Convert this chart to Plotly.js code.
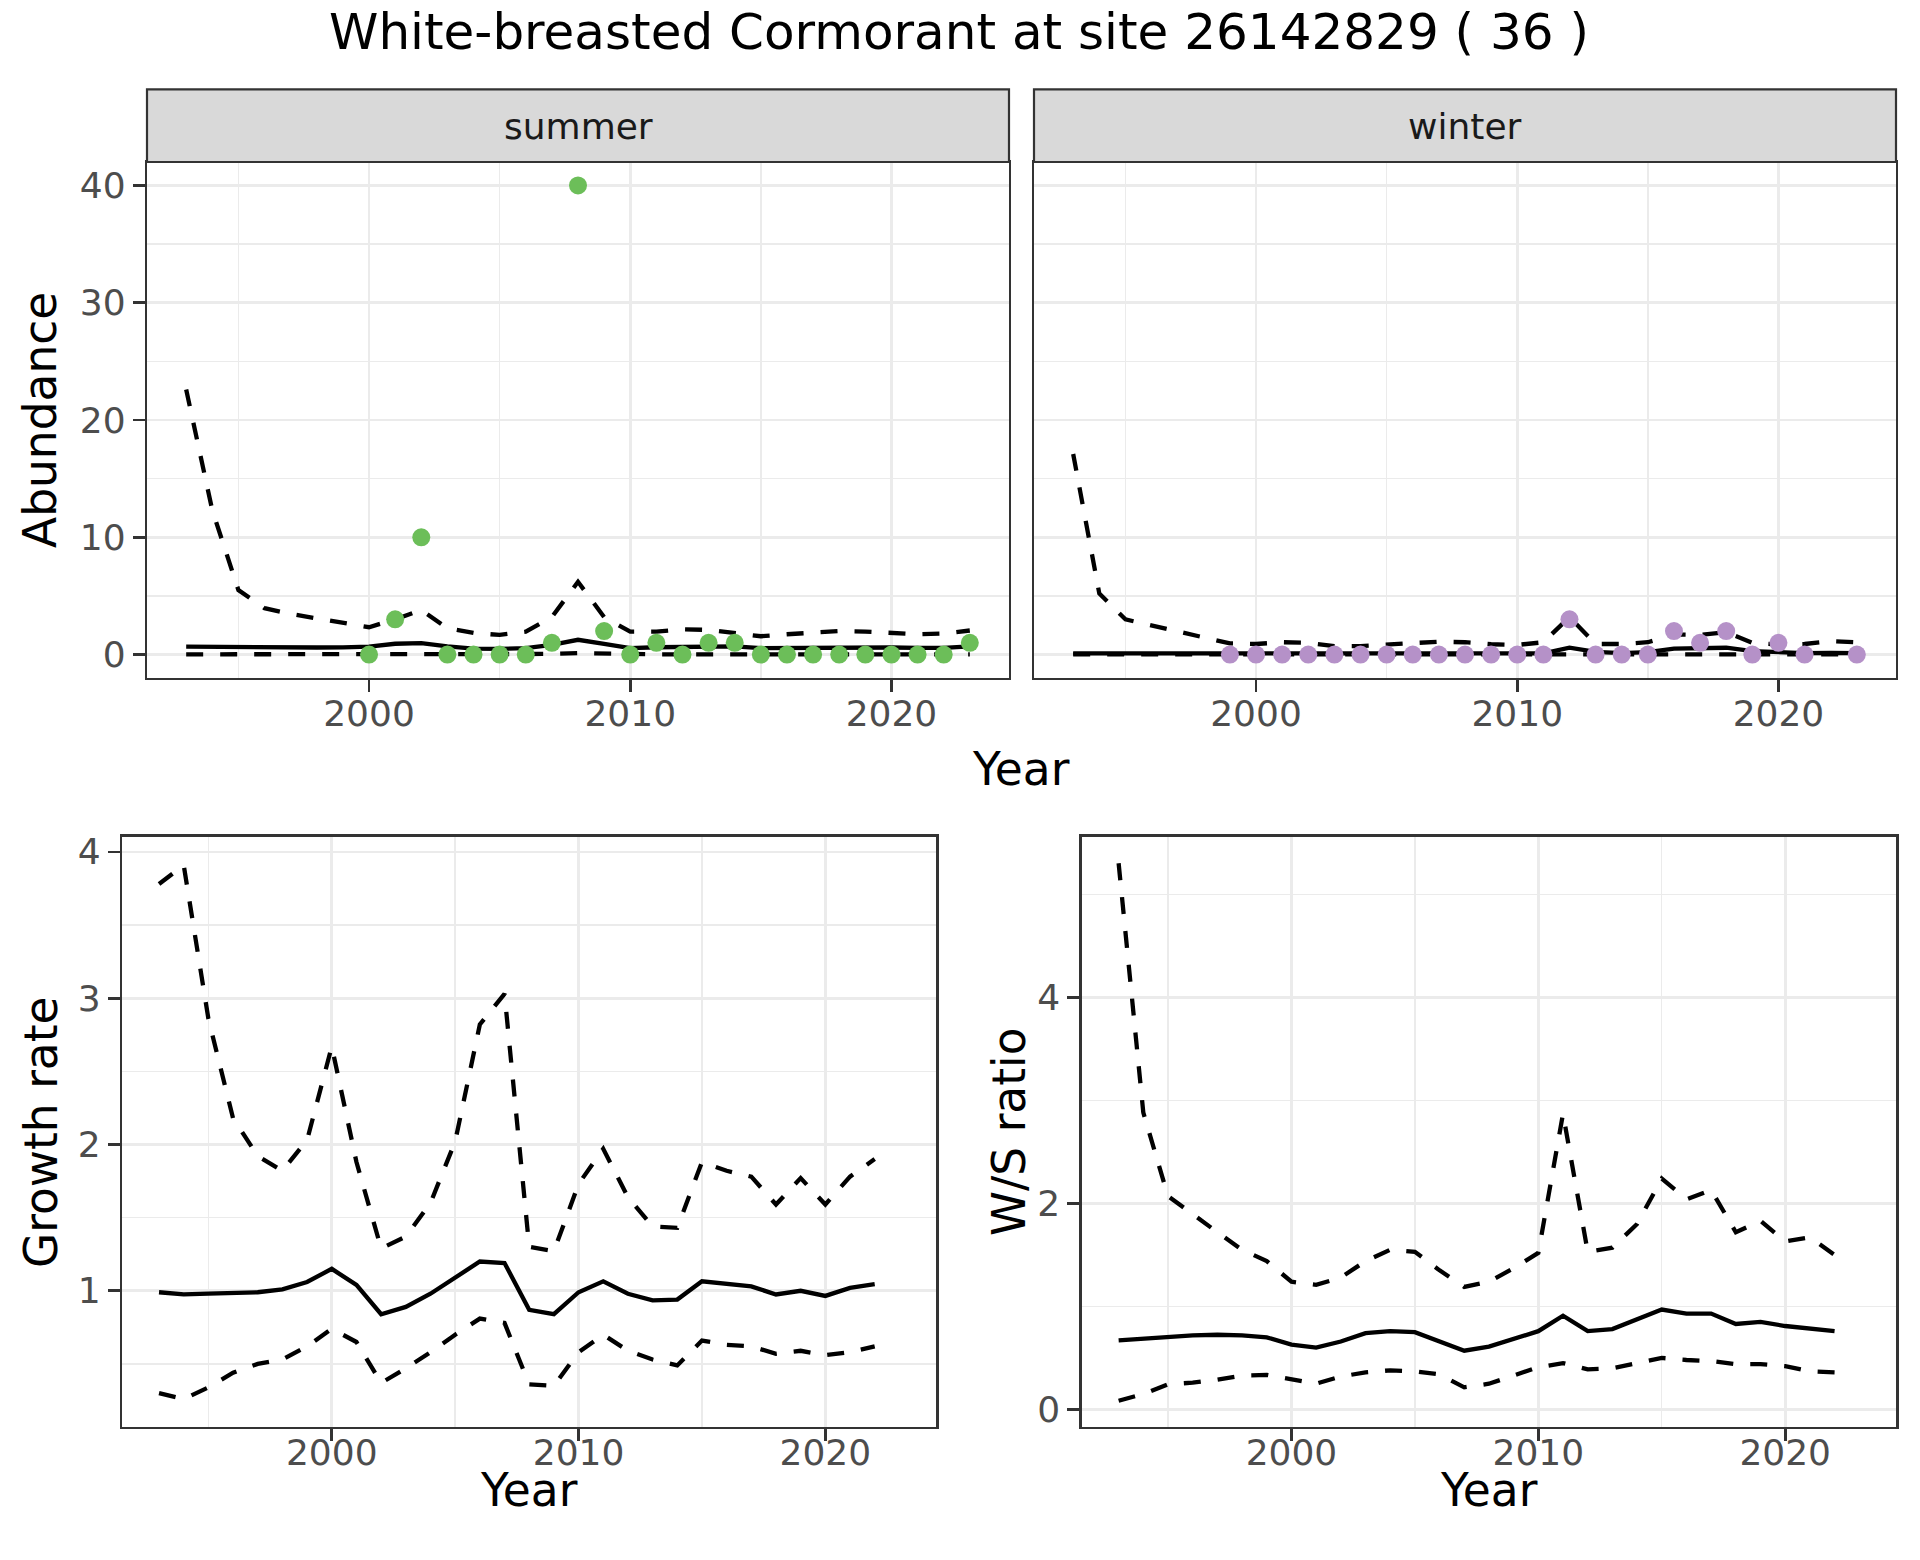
<!DOCTYPE html>
<html>
<head>
<meta charset="utf-8">
<script src="https://cdn.plot.ly/plotly-3.0.1.min.js"></script>
<style>
  html, body { margin: 0; padding: 0; background: #ffffff; }
  #chart { width: 1920px; height: 1560px; }
</style>
</head>
<body>
<div id="chart"></div>
<script>
// ---------------- data ----------------
const yearsTop = [1993,1994,1995,1996,1997,1998,1999,2000,2001,2002,2003,2004,2005,2006,2007,2008,2009,2010,2011,2012,2013,2014,2015,2016,2017,2018,2019,2020,2021,2022,2023];

const summerMean  = [0.68,0.65,0.63,0.62,0.60,0.60,0.61,0.68,0.92,0.98,0.70,0.50,0.48,0.54,0.82,1.26,0.90,0.54,0.62,0.62,0.68,0.70,0.54,0.57,0.60,0.60,0.60,0.60,0.57,0.57,0.70];
const summerUpper = [22.6,12.3,5.5,3.95,3.46,3.1,2.7,2.33,3.0,3.8,2.24,1.84,1.67,1.95,3.2,6.2,3.2,1.95,1.96,2.15,2.1,1.85,1.56,1.73,1.9,2.0,1.96,1.87,1.73,1.79,2.05];
const summerLower = [0.02,0.02,0.02,0.02,0.02,0.02,0.02,0.02,0.04,0.05,0.03,0.02,0.02,0.02,0.05,0.12,0.06,0.02,0.02,0.02,0.02,0.02,0.02,0.02,0.02,0.02,0.02,0.02,0.02,0.02,0.02];

const winterMean  = [0.10,0.10,0.10,0.10,0.10,0.10,0.10,0.10,0.10,0.10,0.10,0.10,0.10,0.10,0.10,0.10,0.10,0.10,0.10,0.58,0.22,0.12,0.20,0.50,0.58,0.58,0.30,0.22,0.12,0.15,0.12];
const winterUpper = [17.1,5.2,3.0,2.5,2.0,1.5,0.95,0.9,1.05,1.0,0.72,0.72,0.82,1.0,1.1,1.05,0.88,0.82,1.05,3.2,0.9,0.9,1.05,1.7,1.68,1.9,1.0,0.85,0.9,1.15,1.05];
const winterLower = [0.02,0.02,0.02,0.02,0.02,0.02,0.02,0.02,0.02,0.02,0.02,0.02,0.02,0.02,0.02,0.02,0.02,0.02,0.02,0.03,0.02,0.02,0.02,0.02,0.02,0.02,0.02,0.02,0.02,0.02,0.02];

const summerObsYears = [2000,2001,2002,2003,2004,2005,2006,2007,2008,2009,2010,2011,2012,2013,2014,2015,2016,2017,2018,2019,2020,2021,2022,2023];
const summerObs      = [0,3,10,0,0,0,0,1,40,2,0,1,0,1,1,0,0,0,0,0,0,0,0,1];

const winterObsYears = [1999,2000,2001,2002,2003,2004,2005,2006,2007,2008,2009,2010,2011,2012,2013,2014,2015,2016,2017,2018,2019,2020,2021,2023];
const winterObs      = [0,0,0,0,0,0,0,0,0,0,0,0,0,3,0,0,0,2,1,2,0,1,0,0];

const yearsBottom = [1993,1994,1995,1996,1997,1998,1999,2000,2001,2002,2003,2004,2005,2006,2007,2008,2009,2010,2011,2012,2013,2014,2015,2016,2017,2018,2019,2020,2021,2022];

const growthMean  = [0.99,0.975,0.98,0.985,0.99,1.01,1.06,1.15,1.04,0.84,0.89,0.98,1.09,1.20,1.19,0.87,0.84,0.99,1.065,0.98,0.935,0.94,1.065,1.05,1.03,0.975,1.0,0.965,1.02,1.045];
const growthUpper = [3.78,3.91,2.86,2.18,1.92,1.82,2.03,2.67,1.88,1.29,1.37,1.60,2.02,2.82,3.03,1.30,1.27,1.73,1.97,1.64,1.44,1.43,1.88,1.82,1.78,1.59,1.77,1.59,1.78,1.90];
const growthLower = [0.30,0.26,0.34,0.44,0.50,0.53,0.62,0.74,0.65,0.37,0.47,0.58,0.70,0.81,0.78,0.36,0.35,0.58,0.70,0.59,0.53,0.49,0.66,0.63,0.62,0.57,0.59,0.56,0.58,0.62];

const ratioMean  = [0.67,0.69,0.70,0.72,0.725,0.72,0.70,0.63,0.60,0.66,0.74,0.76,0.75,0.66,0.57,0.61,0.69,0.76,0.91,0.76,0.78,0.87,0.97,0.93,0.93,0.83,0.85,0.81,0.79,0.76];
const ratioUpper = [5.30,2.88,2.07,1.89,1.72,1.55,1.44,1.24,1.21,1.28,1.44,1.55,1.53,1.35,1.19,1.24,1.37,1.52,2.87,1.53,1.57,1.80,2.24,2.04,2.13,1.72,1.83,1.63,1.67,1.50];
const ratioLower = [0.085,0.15,0.245,0.26,0.29,0.33,0.335,0.29,0.25,0.32,0.36,0.38,0.37,0.34,0.215,0.25,0.335,0.41,0.45,0.39,0.40,0.45,0.50,0.48,0.47,0.44,0.44,0.42,0.37,0.36];

const xTickVals = [2000, 2010, 2020];
const titleText = 'White-breasted Cormorant at site 26142829 ( 36 )';
const stripLabels = ['summer', 'winter'];

// ---------------- styling ----------------
const W = 1920, H = 1560;
const FONT = 'DejaVu Sans, Verdana, sans-serif';
const px = v => v / W;
const py = v => 1 - v / H;

const LINE_W = 4.3;
const DASH = '17px,17px';
const GREEN = '#6CBE59';
const PURPLE = '#B591C8';

function axisCommon(extra) {
  return Object.assign({
    showgrid: true, gridcolor: '#EBEBEB', gridwidth: 2.7,
    zeroline: false,
    showline: true, mirror: true, linecolor: '#333333', linewidth: 2.2,
    ticks: 'outside', ticklen: 12, tickwidth: 2.7, tickcolor: '#333333',
    tickfont: { family: FONT, size: 36, color: '#4D4D4D' },
    fixedrange: true
  }, extra);
}
function xAxis(domain, anchor, standoff) {
  return axisCommon({
    domain: domain, anchor: anchor, range: [1991.5, 2024.5],
    tickmode: 'array', tickvals: xTickVals, ticktext: xTickVals.map(String),
    ticklabelstandoff: standoff,
    minor: { tickmode: 'array', tickvals: [1995, 2005, 2015], showgrid: true, gridcolor: '#EBEBEB', gridwidth: 1.4, ticks: '' }
  });
}

const topY = [py(678), py(162)];
const botY = [py(1427), py(836.5)];

function line(x, y, xa, ya, dashed) {
  return { x: x, y: y, xaxis: xa, yaxis: ya, type: 'scatter', mode: 'lines',
    line: { color: '#000000', width: LINE_W, dash: dashed ? DASH : 'solid' },
    hoverinfo: 'skip', showlegend: false };
}
function pts(x, y, xa, ya, col) {
  return { x: x, y: y, xaxis: xa, yaxis: ya, type: 'scatter', mode: 'markers',
    marker: { color: col, size: 18, line: { width: 0 } }, cliponaxis: false,
    hoverinfo: 'skip', showlegend: false };
}

const traces = [
  line(yearsTop, summerUpper, 'x', 'y', true),
  line(yearsTop, summerLower, 'x', 'y', true),
  line(yearsTop, summerMean, 'x', 'y', false),
  pts(summerObsYears, summerObs, 'x', 'y', GREEN),

  line(yearsTop, winterUpper, 'x2', 'y2', true),
  line(yearsTop, winterLower, 'x2', 'y2', true),
  line(yearsTop, winterMean, 'x2', 'y2', false),
  pts(winterObsYears, winterObs, 'x2', 'y2', PURPLE),

  line(yearsBottom, growthUpper, 'x3', 'y3', true),
  line(yearsBottom, growthLower, 'x3', 'y3', true),
  line(yearsBottom, growthMean, 'x3', 'y3', false),

  line(yearsBottom, ratioUpper, 'x4', 'y4', true),
  line(yearsBottom, ratioLower, 'x4', 'y4', true),
  line(yearsBottom, ratioMean, 'x4', 'y4', false)
];

const topYAxis = {
  range: [-2, 42], tickmode: 'array', tickvals: [0, 10, 20, 30, 40],
  minor: { tickmode: 'array', tickvals: [5, 15, 25, 35], showgrid: true, gridcolor: '#EBEBEB', gridwidth: 1.4, ticks: '' }
};

const layout = {
  width: W, height: H,
  margin: { l: 0, r: 0, t: 0, b: 0, pad: 0 },
  paper_bgcolor: '#FFFFFF', plot_bgcolor: '#FFFFFF',
  showlegend: false,
  font: { family: FONT, color: '#000000' },
  title: { text: titleText, font: { family: FONT, size: 50, color: '#000000' },
           x: 959 / W, xanchor: 'center', y: py(31.5), yanchor: 'middle' },

  xaxis:  xAxis([px(147), px(1009)], 'y', -9),
  xaxis2: xAxis([px(1034), px(1896)], 'y2', -9),
  xaxis3: xAxis([px(122), px(936.4)], 'y3', -19),
  xaxis4: xAxis([px(1081.6), px(1896.3)], 'y4', -19),

  yaxis:  axisCommon(Object.assign({ domain: topY, anchor: 'x' }, topYAxis)),
  yaxis2: axisCommon(Object.assign({ domain: topY, anchor: 'x2', showticklabels: false, ticks: '' }, topYAxis)),
  yaxis3: axisCommon({ domain: botY, anchor: 'x3', range: [0.069, 4.105],
    tickmode: 'array', tickvals: [1, 2, 3, 4],
    minor: { tickmode: 'array', tickvals: [0.5, 1.5, 2.5, 3.5], showgrid: true, gridcolor: '#EBEBEB', gridwidth: 1.4, ticks: '' } }),
  yaxis4: axisCommon({ domain: botY, anchor: 'x4', range: [-0.17, 5.56],
    tickmode: 'array', tickvals: [0, 2, 4],
    minor: { tickmode: 'array', tickvals: [1, 3, 5], showgrid: true, gridcolor: '#EBEBEB', gridwidth: 1.4, ticks: '' } }),

  shapes: [
    { type: 'rect', xref: 'paper', yref: 'paper', x0: px(147), x1: px(1009), y0: py(162), y1: py(89.3),
      fillcolor: '#D9D9D9', line: { color: '#333333', width: 2.2 } },
    { type: 'rect', xref: 'paper', yref: 'paper', x0: px(1034), x1: px(1896), y0: py(162), y1: py(89.3),
      fillcolor: '#D9D9D9', line: { color: '#333333', width: 2.2 } }
  ],

  annotations: [
    { text: stripLabels[0], xref: 'paper', yref: 'paper', x: px(578), y: py(126), xanchor: 'center', yanchor: 'middle',
      showarrow: false, font: { family: FONT, size: 36, color: '#1A1A1A' } },
    { text: stripLabels[1], xref: 'paper', yref: 'paper', x: px(1465), y: py(126), xanchor: 'center', yanchor: 'middle',
      showarrow: false, font: { family: FONT, size: 36, color: '#1A1A1A' } },
    { text: 'Abundance', xref: 'paper', yref: 'paper', x: px(41), y: py(420), xanchor: 'center', yanchor: 'middle',
      textangle: -90, showarrow: false, font: { family: FONT, size: 45.5, color: '#000000' } },
    { text: 'Year', xref: 'paper', yref: 'paper', x: px(1021.5), y: py(769), xanchor: 'center', yanchor: 'middle',
      showarrow: false, font: { family: FONT, size: 45.5, color: '#000000' } },
    { text: 'Growth rate', xref: 'paper', yref: 'paper', x: px(41), y: py(1132), xanchor: 'center', yanchor: 'middle',
      textangle: -90, showarrow: false, font: { family: FONT, size: 45.5, color: '#000000' } },
    { text: 'Year', xref: 'paper', yref: 'paper', x: px(529), y: py(1490), xanchor: 'center', yanchor: 'middle',
      showarrow: false, font: { family: FONT, size: 45.5, color: '#000000' } },
    { text: 'W/S ratio', xref: 'paper', yref: 'paper', x: px(1009), y: py(1132), xanchor: 'center', yanchor: 'middle',
      textangle: -90, showarrow: false, font: { family: FONT, size: 45.5, color: '#000000' } },
    { text: 'Year', xref: 'paper', yref: 'paper', x: px(1489), y: py(1490), xanchor: 'center', yanchor: 'middle',
      showarrow: false, font: { family: FONT, size: 45.5, color: '#000000' } }
  ]
};

Plotly.newPlot('chart', traces, layout, { staticPlot: true, displayModeBar: false });
</script>
</body>
</html>
